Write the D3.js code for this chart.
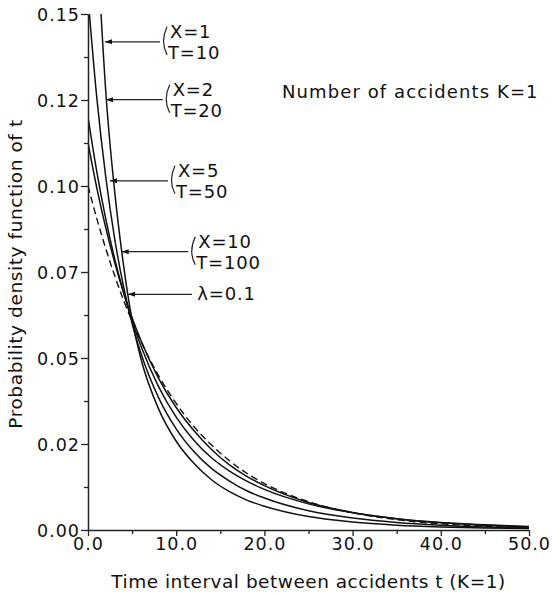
<!DOCTYPE html>
<html>
<head>
<meta charset="utf-8">
<script src="https://cdn.jsdelivr.net/npm/d3@7"></script>
<style>
  body { margin: 0; background: #fff; }
  svg text { font-family: "DejaVu Sans", "Liberation Sans", Arial, sans-serif; fill: #111; }
</style>
</head>
<body>
<svg class="chart" width="552" height="595"></svg>
<script>
const tValues = [0, 1, 2, 3, 4, 5, 6, 8, 10, 12, 14, 16, 18, 20, 25, 30, 35, 40, 45, 50];

// densities
const curveX1 = [0.2430, 0.1750, 0.1280, 0.0990, 0.0775, 0.0610, 0.0498, 0.0352, 0.0258, 0.0194, 0.0146, 0.0112, 0.0087, 0.0069, 0.0039, 0.0023, 0.0014, 0.0009, 0.0006, 0.0004];
const curveX2 = [0.1550, 0.1256, 0.1029, 0.0851, 0.0711, 0.0600, 0.0514, 0.0385, 0.0294, 0.0228, 0.0179, 0.0143, 0.0114, 0.0093, 0.0056, 0.0035, 0.0022, 0.0014, 0.0009, 0.0006];
const curveX5 = [0.1200, 0.1041, 0.0906, 0.0791, 0.0693, 0.0608, 0.0535, 0.0417, 0.0328, 0.0261, 0.0210, 0.0172, 0.0142, 0.0118, 0.0076, 0.0050, 0.0033, 0.0022, 0.0015, 0.0010];
const curveX10 = [0.1125, 0.0994, 0.0880, 0.0780, 0.0693, 0.0617, 0.0551, 0.0441, 0.0356, 0.0289, 0.0234, 0.0190, 0.0156, 0.0129, 0.0080, 0.0051, 0.0033, 0.0021, 0.0014, 0.0009];
const curveLambda = [0.1000, 0.0905, 0.0819, 0.0741, 0.0670, 0.0607, 0.0549, 0.0449, 0.0368, 0.0301, 0.0247, 0.0202, 0.0165, 0.0135, 0.0082, 0.0050, 0.0030, 0.0018, 0.0011, 0.0007];

const xTicks = [0, 10, 20, 30, 40, 50];
const xTickLabels = ['0.0', '10.0', '20.0', '30.0', '40.0', '50.0'];
const xMinorTicks = [5, 15, 25, 35, 45];
const yTicks = [0, 0.025, 0.05, 0.075, 0.1, 0.125, 0.15];
const yTickLabels = ['0.00', '0.02', '0.05', '0.07', '0.10', '0.12', '0.15'];
const yMinorTicks = [0.0125, 0.0375, 0.0625, 0.0875, 0.1125, 0.1375];

const labelTop = ['X=1', 'X=2', 'X=5', 'X=10'];
const labelBottom = ['T=10', 'T=20', 'T=50', 'T=100'];
const lambdaLabel = 'λ=0.1';

const svg = d3.select('.chart');
const margin = { left: 88, top: 14, right: 23, bottom: 65 };
const width = +svg.attr('width') - margin.left - margin.right;
const height = +svg.attr('height') - margin.top - margin.bottom;

const x = d3.scaleLinear().domain([0, 50]).range([0, width]);
const y = d3.scaleLinear().domain([0, 0.15]).range([height, 0]);

const g = svg.append('g')
    .attr('transform', `translate(${margin.left},${margin.top})`);

g.append('clipPath').attr('id', 'plot-clip')
  .append('rect')
    .attr('x', 0).attr('y', 0)
    .attr('width', width + 2).attr('height', height);

const line = d3.line()
    .x((d, i) => x(tValues[i]))
    .y(d => y(d))
    .curve(d3.curveMonotoneX);

const curves = [curveX1, curveX2, curveX5, curveX10];

g.append('g').attr('clip-path', 'url(#plot-clip)')
  .selectAll('path.curve')
  .data(curves)
  .enter()
  .append('path')
    .attr('class', 'curve')
    .attr('d', line)
    .attr('fill', 'none')
    .attr('stroke', '#111')
    .attr('stroke-width', 1.5);

g.append('path')
    .attr('clip-path', 'url(#plot-clip)')
    .attr('d', line(curveLambda))
    .attr('fill', 'none')
    .attr('stroke', '#111')
    .attr('stroke-width', 1.4)
    .attr('stroke-dasharray', '7,4');

// axes
const styleAxis = sel => {
  sel.selectAll('.domain').attr('stroke', '#222').attr('stroke-width', 1.5);
  sel.selectAll('.tick line').attr('stroke', '#222').attr('stroke-width', 1.3);
  sel.selectAll('text').attr('font-size', 17.5).attr('letter-spacing', 1).attr('fill', '#111');
};

const yAxisG = g.append('g')
    .call(d3.axisLeft(y).tickValues(yTicks).tickFormat((d, i) => yTickLabels[i]).tickSize(7).tickPadding(1).tickSizeOuter(0))
    .call(styleAxis);
yAxisG.selectAll('text').attr('dy', '0.36em');

g.append('g')
    .call(d3.axisLeft(y).tickValues(yMinorTicks).tickFormat('').tickSize(4))
    .call(styleAxis)
    .select('.domain').remove();

const xAxisG = g.append('g')
    .attr('transform', `translate(0,${height})`)
    .call(d3.axisBottom(x).tickValues(xTicks).tickFormat((d, i) => xTickLabels[i]).tickSize(6).tickPadding(2).tickSizeOuter(0))
    .call(styleAxis);

g.append('g')
    .attr('transform', `translate(0,${height})`)
    .call(d3.axisBottom(x).tickValues(xMinorTicks).tickFormat('').tickSize(4))
    .call(styleAxis)
    .select('.domain').remove();

// axis titles
g.append('text')
    .attr('x', width / 2)
    .attr('y', height + 58)
    .attr('text-anchor', 'middle')
    .attr('font-size', 18.5)
    .attr('letter-spacing', 0.5)
    .text('Time interval between accidents t (K=1)');

g.append('text')
    .attr('transform', `translate(${22 - margin.left},${260}) rotate(-90)`)
    .attr('text-anchor', 'middle')
    .attr('font-size', 18.5)
    .attr('letter-spacing', 0.6)
    .text('Probability density function of t');

g.append('text')
    .attr('x', 194)
    .attr('y', 84)
    .attr('font-size', 18)
    .attr('letter-spacing', 1.1)
    .text('Number of accidents K=1');

// leader lines: tip point in data units and text start in t units
const leaders = [
  { tip: [1.93, 0.1419], textT: 9.3 },
  { tip: [2.04, 0.1251], textT: 9.6 },
  { tip: [2.49, 0.1015], textT: 10.2 },
  { tip: [3.82, 0.0809], textT: 12.5 }
];

const ann = g.append('g');
leaders.forEach((d, i) => {
  const tx = x(d.tip[0]);
  const ty = y(d.tip[1]);
  const textX = x(d.textT);
  ann.append('line')
      .attr('x1', tx).attr('y1', ty)
      .attr('x2', textX - 10).attr('y2', ty)
      .attr('stroke', '#222').attr('stroke-width', 1.2);
  ann.append('path')
      .attr('d', `M${tx},${ty} l7,-2.5 l0,5 z`)
      .attr('fill', '#111');
  ann.append('path')
      .attr('d', `M${textX - 3},${ty - 15} Q${textX - 10},${ty} ${textX - 3},${ty + 13}`)
      .attr('fill', 'none')
      .attr('stroke', '#222')
      .attr('stroke-width', 1.2);
  ann.append('text')
      .attr('x', textX).attr('y', ty - 4)
      .attr('font-size', 18).attr('letter-spacing', 0.8)
      .text(labelTop[i]);
  ann.append('text')
      .attr('x', textX - 2).attr('y', ty + 17)
      .attr('font-size', 18).attr('letter-spacing', 0.8)
      .text(labelBottom[i]);
});

const lambdaTip = [4.54, 0.0685];
ann.append('line')
    .attr('x1', x(lambdaTip[0])).attr('y1', y(lambdaTip[1]))
    .attr('x2', x(11.8)).attr('y2', y(lambdaTip[1]))
    .attr('stroke', '#222').attr('stroke-width', 1.2);
ann.append('path')
    .attr('d', `M${x(lambdaTip[0])},${y(lambdaTip[1])} l7,-2.5 l0,5 z`)
    .attr('fill', '#111');
ann.append('text')
    .attr('x', x(12.4)).attr('y', y(lambdaTip[1]) + 6)
    .attr('font-size', 18).attr('letter-spacing', 0.8)
    .text(lambdaLabel);
</script>
</body>
</html>
